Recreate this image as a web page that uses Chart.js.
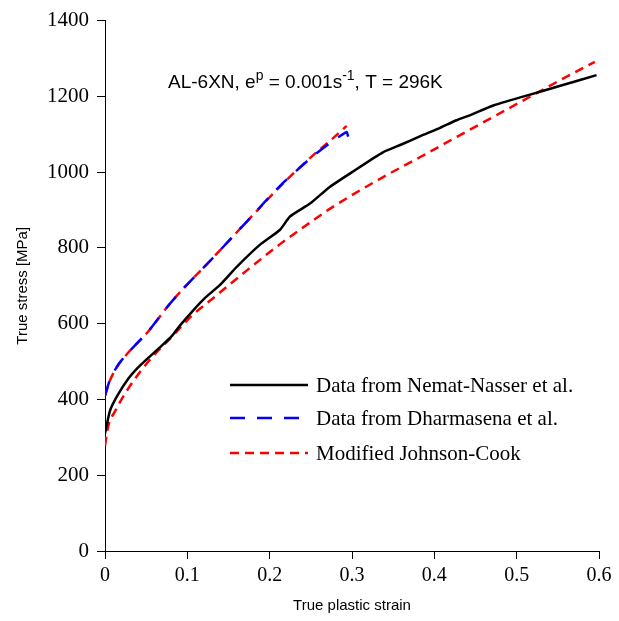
<!DOCTYPE html>
<html>
<head>
<meta charset="utf-8">
<script src="https://cdn.jsdelivr.net/npm/chart.js@4"></script>
<style>
  html, body { margin: 0; padding: 0; background: #fff; }
  #wrap { width: 619px; height: 621px; }
</style>
</head>
<body>
<div id="wrap"><canvas id="myChart" width="619" height="621"></canvas></div>
<script>
// values
const nematStrain = [0, 0.006, 0.015, 0.028, 0.04, 0.0527, 0.067, 0.081, 0.091, 0.105, 0.1215, 0.14, 0.16, 0.188, 0.2126, 0.2247, 0.249, 0.273, 0.3, 0.338, 0.36, 0.383, 0.405, 0.427, 0.443, 0.4717, 0.512, 0.553, 0.597];
const nematStress = [310, 370, 410, 454, 484, 510, 538, 567, 595, 630, 668, 703, 750, 808, 848, 883, 917, 961, 1000, 1053, 1073, 1095, 1115, 1137, 1150, 1176, 1202, 1228, 1256];

const dharmaStrain = [0, 0.006, 0.016, 0.0283, 0.0527, 0.077, 0.097, 0.1215, 0.1316, 0.172, 0.2126, 0.253, 0.277, 0.2895, 0.2935, 0.2955];
const dharmaStress = [410, 452, 492, 524, 580, 648, 697, 752, 775, 869, 964, 1043, 1083, 1101, 1106, 1093];

const jcLowStrain = [0, 0.004, 0.012, 0.028, 0.0527, 0.081, 0.105, 0.1316, 0.172, 0.2126, 0.253, 0.273, 0.302, 0.342, 0.383, 0.423, 0.4717, 0.512, 0.553, 0.595];
const jcLowStress = [278, 330, 368, 428, 500, 565, 620, 668, 740, 810, 873, 903, 942, 992, 1040, 1088, 1146, 1194, 1243, 1291];

const jcHighStrain = [0, 0.006, 0.016, 0.0283, 0.0527, 0.077, 0.097, 0.1215, 0.1316, 0.172, 0.2126, 0.253, 0.273, 0.2935];
const jcHighStress = [410, 450, 490, 524, 580, 648, 697, 752, 775, 869, 962, 1045, 1082, 1122];

const seriesLabels = ['Data from Nemat-Nasser et al.', 'Data from Dharmasena et al.', 'Modified Johnson-Cook'];

function pts(xs, ys) {
    return xs.map((x, i) => ({x: x, y: ys[i]}));
}

// legend drawn inside the plot area
const insideLegend = {
    id: 'insideLegend',
    afterDraw(chart) {
        const ctx = chart.ctx;
        const rows = [385, 418, 453];
        ctx.save();
        ctx.font = '21px "Liberation Serif"';
        ctx.textBaseline = 'middle';
        ctx.fillStyle = '#000';
        for (let i = 0; i < 3; i++) {
            const ds = chart.data.datasets[i];
            ctx.beginPath();
            ctx.strokeStyle = ds.borderColor;
            ctx.lineWidth = ds.borderWidth;
            ctx.setLineDash(ds.borderDash || []);
            ctx.moveTo(230, rows[i]);
            ctx.lineTo(308, rows[i]);
            ctx.stroke();
            ctx.setLineDash([]);
            ctx.fillText(ds.label, 316, rows[i] + 1);
        }
        ctx.restore();
    }
};

// annotation with superscripts
const annotation = {
    id: 'annotation',
    afterDraw(chart) {
        const ctx = chart.ctx;
        const parts = [['AL-6XN, e', 0], ['p', 1], [' = 0.001s', 0], ['-1', 1], [', T = 296K', 0]];
        let x = 168;
        const y = 88;
        ctx.save();
        ctx.fillStyle = '#000';
        ctx.textBaseline = 'alphabetic';
        parts.forEach(p => {
            ctx.font = p[1] ? '14px "Liberation Sans"' : '19px "Liberation Sans"';
            const yy = p[1] ? y - 8 : y;
            ctx.fillText(p[0], x, yy);
            x += ctx.measureText(p[0]).width;
        });
        ctx.restore();
    }
};

const ctx = document.getElementById('myChart').getContext('2d');
const myChart = new Chart(ctx, {
    type: 'line',
    data: {
        datasets: [{
            label: seriesLabels[0],
            data: pts(nematStrain, nematStress),
            borderColor: '#000000',
            borderWidth: 2.5,
            pointRadius: 0,
            tension: 0.2
        }, {
            label: seriesLabels[1],
            data: pts(dharmaStrain, dharmaStress),
            borderColor: '#0000ff',
            borderWidth: 2.5,
            borderDash: [15, 12],
            pointRadius: 0,
            tension: 0.2
        }, {
            label: seriesLabels[2],
            data: pts(jcLowStrain, jcLowStress),
            borderColor: '#ff0000',
            borderWidth: 2.5,
            borderDash: [9, 6],
            pointRadius: 0,
            cubicInterpolationMode: 'monotone'
        }, {
            label: '',
            data: pts(jcHighStrain, jcHighStress),
            borderColor: '#ff0000',
            borderWidth: 2.5,
            borderDash: [9, 6],
            pointRadius: 0,
            cubicInterpolationMode: 'monotone'
        }]
    },
    options: {
        responsive: false,
        animation: false,
        layout: {
            padding: {top: 18, right: 20, left: 0, bottom: 0}
        },
        plugins: {
            legend: {display: false},
            tooltip: {enabled: false}
        },
        scales: {
            x: {
                type: 'linear',
                min: 0,
                max: 0.6,
                afterFit: (scale) => { scale.height = 70; },
                ticks: {
                    stepSize: 0.1,
                    color: '#000',
                    padding: 5,
                    maxRotation: 0,
                    font: {family: '"Liberation Serif"', size: 20},
                    callback: (v) => v === 0 ? '0' : v.toFixed(1)
                },
                grid: {
                    drawOnChartArea: false,
                    drawTicks: true,
                    tickLength: 8,
                    color: '#000'
                },
                border: {color: '#000', width: 1},
                title: {
                    display: true,
                    text: 'True plastic strain',
                    color: '#000',
                    font: {family: '"Liberation Sans"', size: 15},
                    padding: {top: 0, bottom: 6}
                }
            },
            y: {
                min: 0,
                max: 1400,
                afterFit: (scale) => { scale.width = 105; },
                ticks: {
                    stepSize: 200,
                    color: '#000',
                    padding: 8,
                    font: {family: '"Liberation Serif"', size: 21},
                    callback: (v) => String(v)
                },
                grid: {
                    drawOnChartArea: false,
                    drawTicks: true,
                    tickLength: 8,
                    color: '#000'
                },
                border: {color: '#000', width: 1},
                title: {
                    display: true,
                    text: 'True stress [MPa]',
                    color: '#000',
                    font: {family: '"Liberation Sans"', size: 15},
                    padding: {top: 14, bottom: 0}
                }
            }
        }
    },
    plugins: [insideLegend, annotation]
});
</script>
</body>
</html>
